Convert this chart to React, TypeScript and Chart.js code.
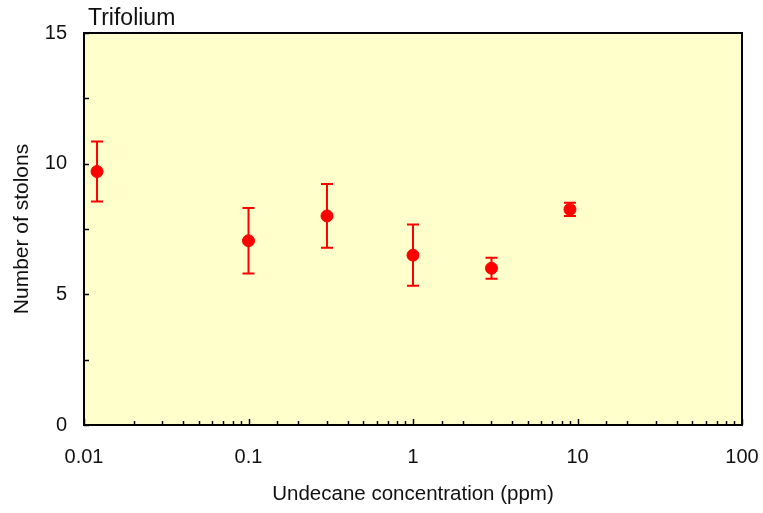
import React, { useEffect, useRef } from "react";
import { Chart, registerables } from "chart.js";

Chart.register(...registerables);

const concentrations = [0.012, 0.1, 0.3, 1, 3, 9];
const stolonMeans = [9.7, 7.05, 8.0, 6.5, 6.0, 8.25];
const stolonErrors = [1.15, 1.25, 1.22, 1.17, 0.4, 0.25];
const xTickLabels = ["0.01", "0.1", "1", "10", "100"];
const yTickLabels = ["0", "5", "10", "15"];

const FONT = "'Liberation Sans', Arial, sans-serif";
const TEXT_COLOR = "#111";

const panelPlugin = {
  id: "panel",
  beforeDraw(chart: any) {
    const { ctx, chartArea: a } = chart;
    ctx.save();
    ctx.fillStyle = "#FFFFCC";
    ctx.fillRect(a.left, a.top, a.right - a.left, a.bottom - a.top);
    ctx.restore();
  },
  afterDatasetsDraw(chart: any) {
    const { ctx, scales } = chart;
    ctx.save();
    const ds = chart.data.datasets[0];
    ctx.strokeStyle = "#FF0000";
    ctx.lineWidth = 2;
    ds.data.forEach((p: any, i: number) => {
      const x = scales.x.getPixelForValue(p.x);
      const top = scales.y.getPixelForValue(p.y + stolonErrors[i]);
      const bot = scales.y.getPixelForValue(p.y - stolonErrors[i]);
      ctx.beginPath();
      ctx.moveTo(x, top);
      ctx.lineTo(x, bot);
      ctx.moveTo(x - 6, top);
      ctx.lineTo(x + 6, top);
      ctx.moveTo(x - 6, bot);
      ctx.lineTo(x + 6, bot);
      ctx.stroke();
    });
    ctx.restore();
  },
  afterDraw(chart: any) {
    const { ctx, chartArea: a, scales } = chart;
    ctx.save();
    ctx.strokeStyle = "#000";
    ctx.lineWidth = 1.5;
    scales.x.ticks.forEach((t: any) => {
      const lg = Math.log10(t.value);
      const major = Math.abs(lg - Math.round(lg)) < 1e-6;
      const x = Math.round(scales.x.getPixelForValue(t.value)) + 0.5;
      ctx.beginPath();
      ctx.moveTo(x, a.bottom);
      ctx.lineTo(x, a.bottom - (major ? 6 : 4));
      ctx.stroke();
    });
    scales.y.ticks.forEach((t: any) => {
      const y = Math.round(scales.y.getPixelForValue(t.value)) + 0.5;
      ctx.beginPath();
      ctx.moveTo(a.left, y);
      ctx.lineTo(a.left + 5, y);
      ctx.stroke();
    });
    ctx.lineWidth = 2;
    ctx.strokeRect(a.left, a.top, a.right - a.left, a.bottom - a.top);
    ctx.fillStyle = TEXT_COLOR;
    ctx.font = `23px ${FONT}`;
    ctx.textAlign = "left";
    ctx.textBaseline = "bottom";
    ctx.fillText("Trifolium", a.left + 4, a.top - 3);
    ctx.restore();
  },
};

export default function App() {
  const ref = useRef<HTMLCanvasElement | null>(null);
  useEffect(() => {
    if (!ref.current) return;
    const chart = new Chart(ref.current, {
      type: "scatter",
      data: {
        datasets: [
          {
            data: concentrations.map((c, i) => ({ x: c, y: stolonMeans[i] })),
            backgroundColor: "#FF0000",
            borderColor: "#FF0000",
            pointRadius: 6,
            pointHoverRadius: 6,
          },
        ],
      },
      options: {
        animation: false,
        responsive: true,
        maintainAspectRatio: false,
        layout: { padding: { top: 33, right: 21, left: 0, bottom: 0 } },
        plugins: { legend: { display: false }, tooltip: { enabled: false } },
        scales: {
          x: {
            type: "logarithmic",
            min: 0.01,
            max: 100,
            border: { display: false },
            grid: { display: false, drawTicks: false },
            ticks: {
              autoSkip: false,
              maxRotation: 0,
              padding: 20,
              color: TEXT_COLOR,
              font: { family: FONT, size: 20 },
              callback: (v: any) => {
                const lg = Math.log10(Number(v));
                if (Math.abs(lg - Math.round(lg)) < 1e-6) {
                  return xTickLabels[Math.round(lg) + 2];
                }
                return "";
              },
            },
            title: {
              display: true,
              text: "Undecane concentration (ppm)",
              color: TEXT_COLOR,
              font: { family: FONT, size: 20.5 },
              padding: { top: 4, bottom: 6 },
            },
            afterFit: (s: any) => {
              s.height = 513 - 425;
              s.paddingLeft = 0;
              s.paddingRight = 0;
            },
          },
          y: {
            min: 0,
            max: 15,
            border: { display: false },
            grid: { display: false, drawTicks: false },
            ticks: {
              stepSize: 2.5,
              padding: 17,
              color: TEXT_COLOR,
              font: { family: FONT, size: 20 },
              callback: (v: any) => {
                const n = Number(v);
                return n % 5 === 0 ? yTickLabels[n / 5] : "";
              },
            },
            title: {
              display: true,
              text: "Number of stolons",
              color: TEXT_COLOR,
              font: { family: FONT, size: 21 },
              padding: { top: 10, bottom: 0 },
            },
            afterFit: (s: any) => {
              s.width = 84;
              s.paddingTop = 0;
              s.paddingBottom = 0;
            },
          },
        },
      },
      plugins: [panelPlugin],
    });
    return () => chart.destroy();
  }, []);
  return (
    <div style={{ position: "fixed", left: 0, top: 0, width: 763, height: 513 }}>
      <canvas ref={ref} />
    </div>
  );
}
